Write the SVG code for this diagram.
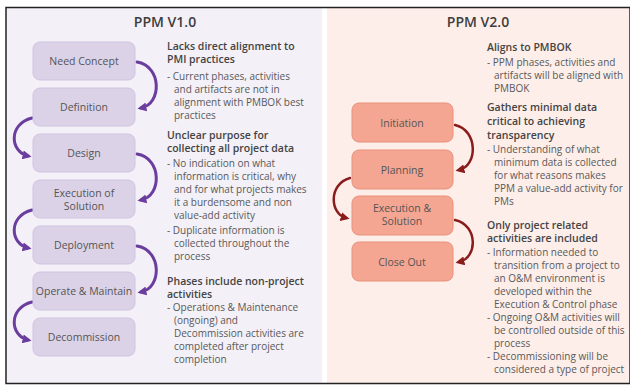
<svg xmlns="http://www.w3.org/2000/svg" width="630" height="386" viewBox="0 0 630 386">
<defs>
<style>
.title{font-family:"Open Sans","Noto Sans",sans-serif;font-size:14px;font-weight:600;fill:#3d3d3d;text-anchor:middle}
.node-l{fill:#dbd2e8;stroke:#cfc4e0;stroke-width:1}
.node-r{fill:#f4a692;stroke:#e8917b;stroke-width:1}
.nt{font-family:"Open Sans","Noto Sans",sans-serif;font-size:10.5px;fill:#555;text-anchor:middle}
.h{font-family:"Open Sans","Noto Sans",sans-serif;font-size:10.5px;font-weight:600;fill:#444}
.b{font-family:"Open Sans","Noto Sans",sans-serif;font-size:10px;fill:#595959}
.al{fill:none;stroke:#6a3d9e;stroke-width:3;stroke-linecap:round}
.ar{fill:none;stroke:#8a1c1c;stroke-width:2.5;stroke-linecap:round}
</style>
<marker id="mp" viewBox="0 0 10 10" refX="6" refY="5" markerWidth="9" markerHeight="9" markerUnits="userSpaceOnUse" orient="auto"><path d="M0,0 L10,5 L0,10 z" fill="#6a3d9e"/></marker>
<marker id="mr" viewBox="0 0 10 10" refX="6" refY="5" markerWidth="9" markerHeight="9" markerUnits="userSpaceOnUse" orient="auto"><path d="M0,0 L10,5 L0,10 z" fill="#8a1c1c"/></marker>
</defs>
<rect x="0" y="0" width="630" height="386" fill="#ffffff"/>
<rect x="7" y="8" width="315" height="375" fill="#f3f0f7"/>
<rect x="327" y="8" width="302" height="375" fill="#fdeeea"/>
<rect x="6" y="7.5" width="624" height="376" fill="none" stroke="#222" stroke-width="1.5"/>

<text class="title" x="165" y="27">PPM V1.0</text>
<text class="title" x="478" y="27">PPM V2.0</text>

<g id="connectors">
<path class="al" d="M137,62 C162,66 162,104 141,108" marker-end="url(#mp)"/>
<path class="al" d="M32,118 C8,124 10,152 28,156" marker-end="url(#mp)"/>
<path class="al" d="M137,154 C162,158 162,196 141,200" marker-end="url(#mp)"/>
<path class="al" d="M32,210 C8,216 10,244 28,248" marker-end="url(#mp)"/>
<path class="al" d="M137,246 C162,250 162,288 141,292" marker-end="url(#mp)"/>
<path class="al" d="M32,302 C8,308 10,336 28,340" marker-end="url(#mp)"/>
<path class="ar" d="M455,125 C478,130 478,166 459,170" marker-end="url(#mr)"/>
<path class="ar" d="M350,178 C328,184 330,214 346,218" marker-end="url(#mr)"/>
<path class="ar" d="M455,220 C478,225 478,258 459,262" marker-end="url(#mr)"/>
</g>

<g id="need-concept"><rect class="node-l" x="33" y="42" width="102" height="38" rx="7"/><text class="nt" x="84" y="65">Need Concept</text></g>
<g id="definition"><rect class="node-l" x="33" y="88" width="102" height="38" rx="7"/><text class="nt" x="84" y="111">Definition</text></g>
<g id="design"><rect class="node-l" x="33" y="134" width="102" height="38" rx="7"/><text class="nt" x="84" y="157">Design</text></g>
<g id="execution-of-solution"><rect class="node-l" x="33" y="180" width="102" height="38" rx="7"/><text class="nt" x="84" y="197">Execution of</text><text class="nt" x="84" y="210">Solution</text></g>
<g id="deployment"><rect class="node-l" x="33" y="226" width="102" height="38" rx="7"/><text class="nt" x="84" y="249">Deployment</text></g>
<g id="operate-maintain"><rect class="node-l" x="33" y="272" width="102" height="38" rx="7"/><text class="nt" x="84" y="295">Operate &amp; Maintain</text></g>
<g id="decommission"><rect class="node-l" x="33" y="318" width="102" height="38" rx="7"/><text class="nt" x="84" y="341">Decommission</text></g>

<g id="initiation"><rect class="node-r" x="352" y="103" width="101" height="39" rx="7"/><text class="nt" x="402" y="127">Initiation</text></g>
<g id="planning"><rect class="node-r" x="352" y="150" width="101" height="39" rx="7"/><text class="nt" x="402" y="174">Planning</text></g>
<g id="execution-solution"><rect class="node-r" x="352" y="196" width="101" height="39" rx="7"/><text class="nt" x="402" y="212">Execution &amp;</text><text class="nt" x="402" y="225">Solution</text></g>
<g id="close-out"><rect class="node-r" x="352" y="242" width="101" height="39" rx="7"/><text class="nt" x="402" y="266">Close Out</text></g>

<g id="v1-notes">
<text class="h" x="167" y="50">Lacks direct alignment to</text>
<text class="h" x="167" y="63">PMI practices</text>
<text class="b" x="167" y="80">- Current phases, activities</text>
<text class="b" x="174" y="93">and artifacts are not in</text>
<text class="b" x="174" y="106">alignment with PMBOK best</text>
<text class="b" x="174" y="119">practices</text>
<text class="h" x="167" y="139">Unclear purpose for</text>
<text class="h" x="167" y="152">collecting all project data</text>
<text class="b" x="167" y="167">- No indication on what</text>
<text class="b" x="174" y="180">information is critical, why</text>
<text class="b" x="174" y="193">and for what projects makes</text>
<text class="b" x="174" y="206">it a burdensome and non</text>
<text class="b" x="174" y="219">value-add activity</text>
<text class="b" x="167" y="234">- Duplicate information is</text>
<text class="b" x="174" y="247">collected throughout the</text>
<text class="b" x="174" y="260">process</text>
<text class="h" x="167" y="285">Phases include non-project</text>
<text class="h" x="167" y="298">activities</text>
<text class="b" x="167" y="311">- Operations &amp; Maintenance</text>
<text class="b" x="174" y="324">(ongoing) and</text>
<text class="b" x="174" y="337">Decommission activities are</text>
<text class="b" x="174" y="350">completed after project</text>
<text class="b" x="174" y="363">completion</text>
</g>

<g id="v2-notes">
<text class="h" x="487" y="51">Aligns to PMBOK</text>
<text class="b" x="487" y="66">- PPM phases, activities and</text>
<text class="b" x="494" y="79">artifacts will be aligned with</text>
<text class="b" x="494" y="92">PMBOK</text>
<text class="h" x="487" y="111">Gathers minimal data</text>
<text class="h" x="487" y="125">critical to achieving</text>
<text class="h" x="487" y="139">transparency</text>
<text class="b" x="487" y="153">- Understanding of what</text>
<text class="b" x="494" y="166">minimum data is collected</text>
<text class="b" x="494" y="179">for what reasons makes</text>
<text class="b" x="494" y="192">PPM a value-add activity for</text>
<text class="b" x="494" y="205">PMs</text>
<text class="h" x="487" y="229">Only project related</text>
<text class="h" x="487" y="242">activities are included</text>
<text class="b" x="487" y="256">- Information needed to</text>
<text class="b" x="494" y="269">transition from a project to</text>
<text class="b" x="494" y="282">an O&amp;M environment is</text>
<text class="b" x="494" y="295">developed within the</text>
<text class="b" x="494" y="308">Execution &amp; Control phase</text>
<text class="b" x="487" y="321">- Ongoing O&amp;M activities will</text>
<text class="b" x="494" y="334">be controlled outside of this</text>
<text class="b" x="494" y="347">process</text>
<text class="b" x="487" y="360">- Decommissioning will be</text>
<text class="b" x="494" y="373">considered a type of project</text>
</g>
</svg>
